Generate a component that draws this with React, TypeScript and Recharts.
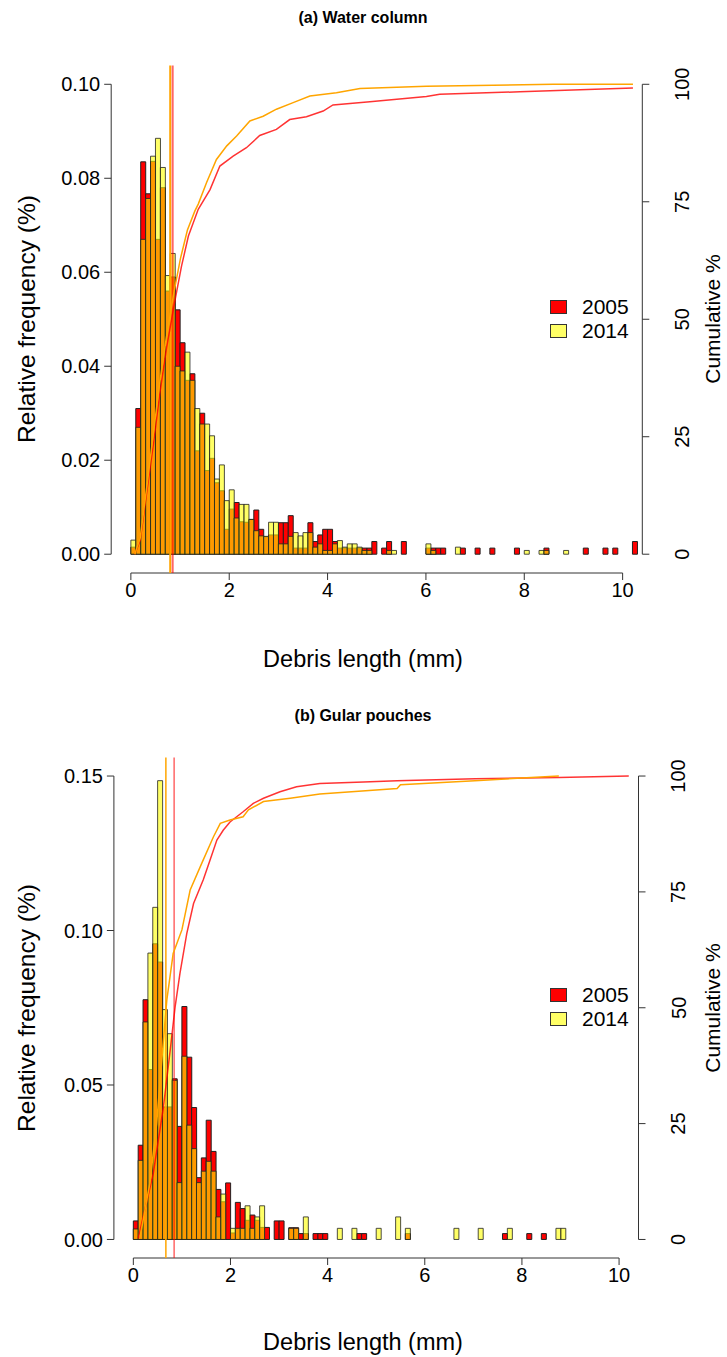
import React from "react";
import { ComposedChart, Bar, Line, XAxis, YAxis, ReferenceLine, Legend } from "recharts";

// bin lower edges (0.1 mm bins), plot spans -0.4 .. 10.4
const binLow = Array.from({ length: 108 }, (_, i) => (i - 4) / 10);
const lengthTicks = [0, 2, 4, 6, 8, 10];
const cumTicks = [0, 25, 50, 75, 100];
const years = ["2005", "2014"];

// (a) water column, relative frequency per bin from 0.0 mm
const water2005 = [
  0.0015, 0.031, 0.0835, 0.0767, 0.0836, 0.067, 0.078, 0.056, 0.059, 0.052,
  0.045, 0.037, 0.0384, 0.022, 0.03, 0.0178, 0.0204, 0.0152, 0.0135, 0.0053,
  0.0096, 0.011, 0.0069, 0.0068, 0.0074, 0.0094, 0.0053, 0.0037, 0.0041, 0.0041,
  0.0067, 0.0067, 0.0082, 0.0013, 0.0013, 0.0013, 0.0067, 0.0027, 0.0041, 0.0053,
  0.0053, 0.0027, 0.0013, 0.0013, 0.0013, 0.0013, 0.0013, 0.0013, 0.0013, 0.0027,
  0, 0.0013, 0.0027, 0, 0, 0.0027, 0, 0, 0, 0,
  0.0013, 0.0013, 0.0013, 0.0013, 0, 0, 0, 0.0013, 0, 0,
  0.0013, 0, 0, 0.0013, 0, 0, 0, 0, 0.0013, 0,
  0, 0, 0, 0, 0.0013, 0, 0, 0, 0, 0,
  0, 0, 0.0013, 0, 0, 0, 0.0013, 0, 0.0013, 0,
  0, 0, 0.0027, 0,
];
const water2014 = [
  0.003, 0.027, 0.067, 0.0757, 0.0847, 0.0885, 0.0823, 0.0593, 0.064, 0.04,
  0.039, 0.043, 0.037, 0.031, 0.0277, 0.0277, 0.0252, 0.016, 0.019, 0.0114,
  0.0137, 0.0077, 0.0106, 0.0106, 0.0074, 0.005, 0.0039, 0.0038, 0.0068, 0.0068,
  0.0022, 0.0022, 0.0038, 0.0046, 0.0039, 0.0046, 0.0046, 0.0015, 0.0022, 0.0008,
  0.0008, 0.0022, 0.0029, 0.0015, 0.0022, 0.0022, 0.0015, 0.0008, 0.0008, 0,
  0, 0, 0.0008, 0.0008, 0, 0, 0, 0, 0, 0,
  0.0022, 0.0008, 0, 0, 0, 0, 0.0015, 0, 0, 0,
  0, 0, 0, 0, 0, 0, 0, 0, 0, 0,
  0.0008, 0, 0, 0.0008, 0.0008, 0, 0, 0, 0.0008, 0,
  0, 0, 0, 0, 0, 0, 0, 0, 0, 0,
  0, 0, 0, 0,
];

// (b) gular pouches
const gular2005 = [
  0.006, 0.0305, 0.0776, 0.055, 0.0957, 0.0898, 0.0429, 0.0429, 0.052, 0.0366,
  0.0754, 0.059, 0.0427, 0.02, 0.0264, 0.0386, 0.0285, 0.0162, 0.0122, 0.0183,
  0.0021, 0.012, 0.01, 0.0062, 0.0079, 0.0062, 0.0039, 0.0039, 0, 0.006,
  0.006, 0, 0.0038, 0.0038, 0.0019, 0.0019, 0, 0.0019, 0.0019, 0.0019,
  0, 0, 0, 0, 0, 0, 0.0019, 0.0019, 0, 0,
  0, 0, 0, 0, 0, 0, 0.0019, 0, 0, 0,
  0, 0, 0, 0, 0, 0, 0, 0, 0, 0,
  0, 0, 0, 0, 0, 0, 0.0019, 0, 0, 0,
  0, 0.0019, 0, 0, 0.0019, 0, 0, 0, 0, 0,
  0, 0, 0, 0, 0, 0, 0, 0, 0, 0,
  0, 0, 0, 0,
];
const gular2014 = [
  0.0034, 0.0256, 0.0704, 0.0927, 0.1075, 0.1485, 0.0744, 0.0666, 0.0515, 0.0184,
  0.0593, 0.037, 0.0294, 0.0184, 0.0221, 0.0253, 0.0221, 0.0073, 0.0147, 0,
  0.0036, 0.0036, 0.0036, 0.0109, 0.0036, 0.0073, 0.0109, 0, 0, 0,
  0, 0, 0.0036, 0.0036, 0, 0.0073, 0, 0, 0, 0,
  0, 0, 0.0036, 0, 0, 0.0036, 0, 0, 0, 0,
  0.0036, 0, 0, 0, 0.0073, 0, 0.0036, 0, 0, 0,
  0, 0, 0, 0, 0, 0, 0.0036, 0, 0, 0,
  0, 0.0036, 0, 0, 0, 0, 0, 0.0036, 0, 0,
  0, 0, 0, 0, 0, 0, 0, 0.0036, 0.0036, 0,
  0, 0, 0, 0, 0, 0, 0, 0, 0, 0,
  0, 0, 0, 0,
];

// cumulative curves (length mm, cumulative %)
const waterCum2005Len = [0.08, 0.19, 0.32, 0.46, 0.59, 0.73, 0.9, 1.03, 1.17, 1.37, 1.61, 1.81, 2.08, 2.35, 2.62, 2.96, 3.23, 3.57, 3.91, 4.11, 4.86, 6.01, 6.28, 7.91, 10.21];
const waterCum2005Pct = [0, 3, 13, 23.6, 34.3, 44.2, 54.2, 61.3, 67.7, 73.4, 77.6, 82.6, 84.7, 86.5, 89.1, 90.4, 92.5, 93.1, 94.3, 95.6, 96.3, 97.4, 97.9, 98.4, 99.2];
const waterCum2014Len = [0.08, 0.19, 0.32, 0.45, 0.58, 0.72, 0.88, 1.01, 1.15, 1.3, 1.37, 1.54, 1.74, 1.95, 2.15, 2.42, 2.69, 2.96, 3.3, 3.64, 4.18, 4.66, 6.01, 8.59, 10.21];
const waterCum2014Pct = [0, 3.5, 14, 25, 36, 46, 56, 63, 69, 73, 74.5, 79.1, 84, 86.9, 89, 92.2, 93.2, 94.7, 96.1, 97.5, 98.2, 99.1, 99.6, 100, 100];
const gularCum2005Len = [0.1, 0.41, 0.62, 0.76, 0.86, 0.96, 1.1, 1.24, 1.44, 1.58, 1.72, 1.85, 1.99, 2.26, 2.47, 2.68, 3.02, 3.36, 3.84, 4.74, 5.43, 7.04, 8.76, 10.2];
const gularCum2005Pct = [0.2, 14.2, 28.6, 40.9, 50.2, 57.4, 66, 72.5, 77.6, 81.9, 86.2, 88.3, 90.1, 92.3, 94.1, 95.2, 96.6, 97.7, 98.4, 98.7, 99, 99.4, 99.7, 100];
const gularCum2014Len = [0.14, 0.34, 0.48, 0.62, 0.69, 0.82, 1.0, 1.17, 1.41, 1.65, 1.79, 1.99, 2.26, 2.37, 2.68, 3.23, 3.84, 5.43, 5.5, 7.03, 8.76];
const gularCum2014Pct = [0.6, 12.1, 25, 43, 51.7, 61.7, 66.8, 75.4, 81.2, 86.9, 89.8, 90.5, 91.2, 92.7, 94.5, 95.2, 96.1, 97.3, 98.1, 99, 100];

// medians (mm)
const waterMedian = { y2005: 0.85, y2014: 0.8 };
const gularMedian = { y2005: 0.84, y2014: 0.67 };

const FONT = "'Liberation Sans', Arial, Helvetica, sans-serif";
const RED = "#FF0000";
const YELLOW = "#FFFF00";
const ORANGE = "#FFA500";
const TICK_FS = 20;

const buildRows = (f05: number[], f14: number[]) =>
  binLow.map((b, i) => ({ bin: b.toFixed(1), y2005: f05[i - 4] ?? 0, y2014: f14[i - 4] ?? 0 }));
const toPoints = (xs: number[], ps: number[]) => xs.map((x, i) => ({ len: x, pct: ps[i] }));

const RightTick = (props: any) => {
  const { x, y, payload } = props;
  const cx = x + 37;
  return (
    <text x={cx} y={y} transform={`rotate(-90 ${cx} ${y})`} textAnchor="middle" fill="#000" fontSize={TICK_FS} fontFamily={FONT}>
      {payload.value}
    </text>
  );
};

const LegendBox = () => (
  <div style={{ fontFamily: FONT, fontSize: 21 }}>
    {years.map((yr, i) => (
      <div key={yr} style={{ display: "flex", alignItems: "center", height: 24 }}>
        <span style={{ display: "inline-block", width: 15, height: 12, marginRight: 15, border: "1px solid #333", background: i === 0 ? RED : "#FFFF66" }} />
        <span>{yr}</span>
      </div>
    ))}
  </div>
);

interface PanelProps {
  top: number;
  height: number;
  plotTop: number;
  plotBottom: number;
  plotLeft: number;
  plotRight: number;
  yMax: number;
  yTicks: number[];
  rows: any[];
  cum05: any[];
  cum14: any[];
  median: { y2005: number; y2014: number };
  legendTop: number;
  medianWidth: number;
}

const Panel = (p: PanelProps) => {
  const pad = p.yMax * 0.04;
  const axisStroke = "#333";
  return (
    <div style={{ position: "absolute", left: 0, top: p.top, width: 727, height: p.height }}>
      <ComposedChart
        width={727}
        height={p.height}
        data={p.rows}
        margin={{ top: p.plotTop - p.top, right: 0, bottom: 0, left: 0 }}
        barCategoryGap={0}
        barGap={0}
      >
        <XAxis
          xAxisId="len"
          dataKey="len"
          type="number"
          domain={[-0.4, 10.4]}
          ticks={lengthTicks}
          allowDataOverflow
          axisLine={false}
          tickSize={7}
          tickMargin={3}
          height={p.top + p.height - p.plotBottom}
          stroke={axisStroke}
          tick={{ fill: "#000", fontSize: TICK_FS, fontFamily: FONT }}
        />
        <XAxis xAxisId="c05" dataKey="bin" type="category" hide height={0} />
        <XAxis xAxisId="c14" dataKey="bin" type="category" hide height={0} />
        <YAxis
          yAxisId="f"
          orientation="left"
          type="number"
          width={p.plotLeft}
          domain={[-pad, p.yMax + pad]}
          ticks={p.yTicks}
          allowDataOverflow
          axisLine={false}
          tickSize={7}
          tickMargin={4}
          stroke={axisStroke}
          tickFormatter={(v: number) => v.toFixed(2)}
          tick={{ fill: "#000", fontSize: TICK_FS, fontFamily: FONT }}
        />
        <YAxis
          yAxisId="c"
          orientation="right"
          type="number"
          width={727 - p.plotRight}
          domain={[-4, 104]}
          ticks={cumTicks}
          allowDataOverflow
          axisLine={false}
          tickSize={7}
          tickMargin={3}
          stroke={axisStroke}
          tick={<RightTick />}
        />
        <Bar xAxisId="c05" yAxisId="f" dataKey="y2005" name="2005" fill={RED} stroke="#222" strokeWidth={1} isAnimationActive={false} />
        <Bar xAxisId="c14" yAxisId="f" dataKey="y2014" name="2014" fill={YELLOW} fillOpacity={0.6} stroke="#222" strokeOpacity={0.8} strokeWidth={1} isAnimationActive={false} />
        <ReferenceLine xAxisId="len" yAxisId="f" segment={[{ x: -0.4, y: 0 }, { x: -0.4, y: p.yMax }]} stroke={axisStroke} ifOverflow="visible" />
        <ReferenceLine xAxisId="len" yAxisId="f" segment={[{ x: 10.4, y: 0 }, { x: 10.4, y: p.yMax }]} stroke={axisStroke} ifOverflow="visible" />
        <ReferenceLine xAxisId="len" yAxisId="f" segment={[{ x: 0, y: -pad }, { x: 10, y: -pad }]} stroke={axisStroke} ifOverflow="visible" />
        <ReferenceLine xAxisId="len" yAxisId="f" x={p.median.y2014} stroke={ORANGE} strokeWidth={p.medianWidth} />
        <ReferenceLine xAxisId="len" yAxisId="f" x={p.median.y2005} stroke={RED} strokeOpacity={0.6} strokeWidth={p.medianWidth} />
        <Line xAxisId="len" yAxisId="c" data={p.cum05} dataKey="pct" type="linear" stroke={RED} strokeOpacity={0.8} strokeWidth={1.5} dot={false} isAnimationActive={false} />
        <Line xAxisId="len" yAxisId="c" data={p.cum14} dataKey="pct" type="linear" stroke={ORANGE} strokeWidth={1.5} dot={false} isAnimationActive={false} />
        <Legend
          layout="horizontal"
          verticalAlign="middle"
          align="center"
          content={() => <LegendBox />}
          wrapperStyle={{ position: "absolute", left: 550, top: p.legendTop - p.top, width: 100 }}
        />
      </ComposedChart>
    </div>
  );
};

const TextAt = ({ x, y, children, rotate, size, bold }: any) => (
  <div
    style={{
      position: "absolute",
      left: x,
      top: y,
      transform: `translate(-50%, -50%)${rotate ? " rotate(-90deg)" : ""}`,
      whiteSpace: "nowrap",
      fontSize: size,
      fontWeight: bold ? "bold" : "normal",
      fontFamily: FONT,
      color: "#000",
      lineHeight: 1,
    }}
  >
    {children}
  </div>
);

export default function App() {
  const rowsA = buildRows(water2005, water2014);
  const rowsB = buildRows(gular2005, gular2014);
  return (
    <div style={{ position: "absolute", left: 0, top: 0, width: 727, height: 1357, background: "#fff", overflow: "hidden" }}>
      <Panel
        top={0}
        height={680}
        plotTop={65.5}
        plotBottom={573}
        plotLeft={111.2}
        plotRight={642.3}
        yMax={0.1}
        yTicks={[0, 0.02, 0.04, 0.06, 0.08, 0.1]}
        rows={rowsA}
        cum05={toPoints(waterCum2005Len, waterCum2005Pct)}
        cum14={toPoints(waterCum2014Len, waterCum2014Pct)}
        median={waterMedian}
        legendTop={295}
        medianWidth={2}
      />
      <Panel
        top={680}
        height={677}
        plotTop={757.5}
        plotBottom={1258}
        plotLeft={113.9}
        plotRight={638.5}
        yMax={0.15}
        yTicks={[0, 0.05, 0.1, 0.15]}
        rows={rowsB}
        cum05={toPoints(gularCum2005Len, gularCum2005Pct)}
        cum14={toPoints(gularCum2014Len, gularCum2014Pct)}
        median={gularMedian}
        legendTop={983}
        medianWidth={1.5}
      />
      <TextAt x={363} y={18} size={16} bold>(a) Water column</TextAt>
      <TextAt x={363} y={716} size={16} bold>(b) Gular pouches</TextAt>
      <TextAt x={363} y={660} size={23.5}>Debris length (mm)</TextAt>
      <TextAt x={363} y={1343} size={23.5}>Debris length (mm)</TextAt>
      <TextAt x={27} y={319} size={24.5} rotate>Relative frequency (%)</TextAt>
      <TextAt x={27} y={1008} size={24.5} rotate>Relative frequency (%)</TextAt>
      <TextAt x={712} y={319} size={21} rotate>Cumulative %</TextAt>
      <TextAt x={712} y={1008} size={21} rotate>Cumulative %</TextAt>
    </div>
  );
}
